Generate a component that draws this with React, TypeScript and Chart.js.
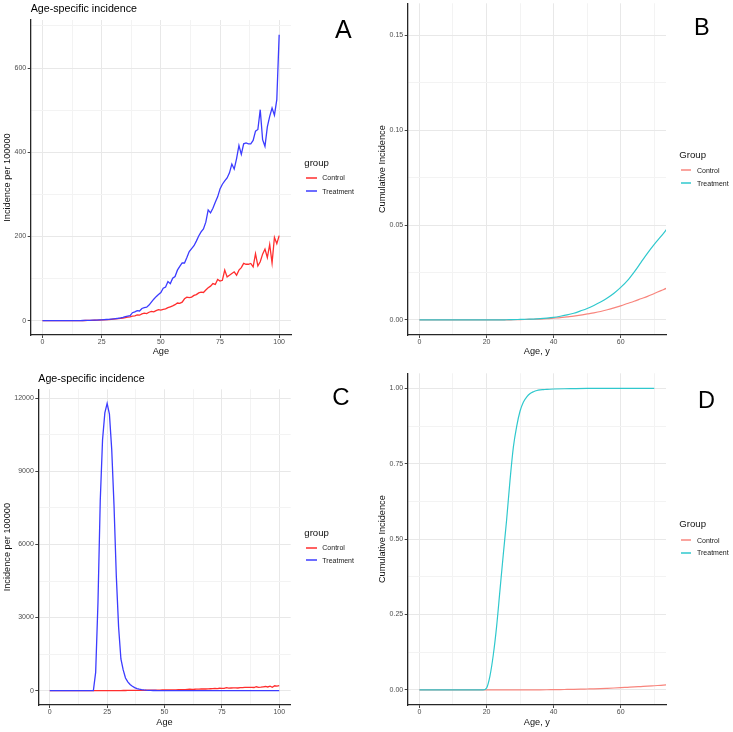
import React, { useEffect, useRef } from "react";
import { Chart, registerables } from "chart.js";

Chart.register(...registerables);

const FONT = "'Liberation Sans', Arial, Helvetica, sans-serif";

// ---------- Panels A and C: age-specific incidence per 100000 ----------
const agesAC = [
  0, 1, 2, 3, 4, 5, 6, 7, 8, 9, 10, 11, 12, 13, 14, 15, 16, 17, 18, 19,
  20, 21, 22, 23, 24, 25, 26, 27, 28, 29, 30, 31, 32, 33, 34, 35, 36, 37, 38, 39,
  40, 41, 42, 43, 44, 45, 46, 47, 48, 49, 50, 51, 52, 53, 54, 55, 56, 57, 58, 59,
  60, 61, 62, 63, 64, 65, 66, 67, 68, 69, 70, 71, 72, 73, 74, 75, 76, 77, 78, 79,
  80, 81, 82, 83, 84, 85, 86, 87, 88, 89, 90, 91, 92, 93, 94, 95, 96, 97, 98, 99, 100,
];

const controlA = [
  0, 0, 0, 0, 0, 0, 0, 0, 0, 0,
  0, 0, 0, 0, 0, 0, 0.2, 0.3, 0.4, 0.5,
  0.6, 0.8, 1, 1.2, 1.4, 1.7, 2, 2.3, 2.7, 3.1,
  3.6, 4.2, 4.8, 5.5, 6.3, 7.2, 8.2, 9.3, 11, 11.5,
  13.5, 13, 16, 18, 17, 20, 22, 21, 24, 26,
  25, 27, 28, 31, 33, 35, 38, 42, 41, 44,
  52, 56, 55, 56, 60, 62, 66, 68, 67, 73,
  78, 82, 88, 86, 98, 94, 96, 120, 104, 108,
  112, 116, 108, 120, 126, 136, 134, 134, 136, 128,
  159, 130, 140, 158, 170, 150, 181, 137, 198, 183,
  202,
];

const treatmentA = [
  0, 0, 0, 0, 0, 0, 0, 0, 0, 0,
  0, 0, 0, 0, 0, 0, 0.3, 0.4, 0.5, 0.7,
  0.9, 1.1, 1.3, 1.5, 1.8, 2.1, 2.4, 2.8, 3.2, 3.7,
  4.3, 5, 5.8, 6.8, 8, 9.5, 11, 12, 19, 21,
  24, 23, 29, 31, 32, 37, 44, 51, 57, 62,
  67, 77, 80, 93, 88, 101, 105, 120, 129, 137,
  137, 150, 164, 171, 178, 189, 201, 211, 218, 234,
  263, 256, 267, 281, 294, 313, 324, 332, 339, 351,
  372, 360, 385, 416, 395, 420, 422, 420, 420, 428,
  450, 454, 501, 430, 414, 460, 485, 505, 488, 525,
  679,
];

const controlC = [
  0, 0, 0, 0, 0, 0, 0, 0, 0, 0,
  0, 0, 0, 0, 0, 0, 0.2, 0.3, 0.4, 0.5,
  0.6, 0.8, 1, 1.2, 1.4, 1.7, 2, 2.3, 2.7, 3.1,
  3.6, 4.2, 4.8, 5.5, 6.3, 7.2, 8.2, 9.3, 11, 11.5,
  13.5, 13, 16, 18, 17, 20, 22, 21, 24, 26,
  25, 27, 28, 31, 33, 35, 38, 42, 41, 44,
  52, 56, 55, 56, 60, 62, 66, 68, 67, 73,
  78, 82, 88, 86, 98, 94, 96, 120, 104, 108,
  112, 116, 108, 120, 126, 136, 134, 134, 136, 128,
  159, 130, 140, 158, 170, 150, 181, 137, 198, 183,
  202,
];

const treatmentC = [
  0, 0, 0, 0, 0, 0, 0, 0, 0, 0,
  0, 0, 0, 0, 0, 0, 0, 0, 0, 0,
  750, 3600, 7800, 10300, 11400, 11790, 11350, 9900, 7600, 4700,
  2600, 1300, 850, 520, 360, 250, 180, 125, 85, 58,
  40, 27, 18, 12, 8, 6, 5, 4, 3, 3,
  3, 3, 2, 2, 2, 2, 2, 2, 2, 2,
  2, 2, 2, 2, 2, 2, 2, 2, 2, 2,
  2, 2, 2, 2, 2, 2, 2, 2, 2, 2,
  2, 2, 2, 2, 2, 2, 2, 2, 2, 2,
  2, 2, 2, 2, 2, 2, 2, 2, 2, 2,
  2,
];

// ---------- Panels B and D: cumulative incidence ----------
const agesCum = [
  0, 2, 4, 6, 8, 10, 12, 14, 16, 18, 20, 22, 24, 26, 28, 30, 32, 34, 36, 38,
  40, 42, 44, 46, 48, 50, 52, 54, 56, 58, 60, 62, 64, 66, 68, 70, 72, 74, 76,
];

const controlB = [
  0, 0, 0, 0, 0, 0, 0, 0, 0, 0, 0, 0, 0, 0, 0.00005, 0.0001, 0.0002, 0.0003, 0.0004, 0.0006,
  0.0009, 0.0012, 0.0016, 0.002, 0.0025, 0.0031, 0.0037, 0.0044, 0.0053, 0.0063,
  0.0074, 0.0086, 0.0098, 0.0111, 0.0124, 0.0139, 0.0154, 0.0169, 0.0185,
];

const treatmentB = [
  0, 0, 0, 0, 0, 0, 0, 0, 0, 0, 0, 0, 0, 0.00005, 0.0001, 0.0002, 0.0003, 0.0004, 0.0006, 0.0009,
  0.0013, 0.0019, 0.0026, 0.0035, 0.0047, 0.006, 0.0076, 0.0094, 0.0115, 0.014,
  0.0171, 0.0207, 0.0252, 0.0302, 0.0352, 0.0398, 0.044, 0.0485, 0.053,
];

const controlD = [
  0, 0, 0, 0, 0, 0, 0, 0, 0, 0, 0, 0, 0, 0, 0.00005, 0.0001, 0.0002, 0.0003, 0.0004, 0.0006,
  0.0009, 0.0012, 0.0016, 0.002, 0.0025, 0.0031, 0.0037, 0.0044, 0.0053, 0.0063,
  0.0074, 0.0086, 0.0098, 0.0111, 0.0124, 0.0139, 0.0154, 0.0169, 0.0185,
];

const agesTreatD = [
  0, 10, 18, 19, 20, 21, 22, 23, 24, 25, 26, 27, 28, 29, 30, 31, 32, 33, 34, 35,
  36, 37, 38, 40, 45, 50, 60, 70,
];

const treatmentD = [
  0, 0, 0, 0, 0.006, 0.045, 0.115, 0.21, 0.33, 0.45, 0.565, 0.695, 0.805, 0.875, 0.925,
  0.955, 0.972, 0.983, 0.989, 0.993, 0.995, 0.996, 0.997, 0.998, 0.999, 1, 1, 1,
];

// ---------- tick values / labels ----------
const xMajorAC = [0, 25, 50, 75, 100];
const xMinorAC = [12.5, 37.5, 62.5, 87.5];
const xLabelsAC = ["0", "25", "50", "75", "100"];

const xMajorBD = [0, 20, 40, 60];
const xMinorBD = [10, 30, 50, 70];
const xLabelsBD = ["0", "20", "40", "60"];

const yMajorA = [0, 200, 400, 600];
const yMinorA = [100, 300, 500, 700];
const yLabelsA = ["0", "200", "400", "600"];

const yMajorB = [0, 0.05, 0.1, 0.15];
const yMinorB = [0.025, 0.075, 0.125];
const yLabelsB = ["0.00", "0.05", "0.10", "0.15"];

const yMajorC = [0, 3000, 6000, 9000, 12000];
const yMinorC = [1500, 4500, 7500, 10500];
const yLabelsC = ["0", "3000", "6000", "9000", "12000"];

const yMajorD = [0, 0.25, 0.5, 0.75, 1];
const yMinorD = [0.125, 0.375, 0.625, 0.875];
const yLabelsD = ["0.00", "0.25", "0.50", "0.75", "1.00"];

const RED = "#ff2e2e";
const BLUE = "#3c3cff";
const SALMON = "#f8857d";
const CYAN = "#2fc8cd";

type AxisSpec = {
  pos: "x" | "y";
  min: number;
  max: number;
  major: number[];
  minor: number[];
  labels: string[];
  title: string;
  size: number;
  titlePad: number;
};

function axis(a: AxisSpec) {
  const all = [...a.major, ...a.minor].sort((p, q) => p - q);
  const majorIndex = (v: number) => a.major.findIndex((m) => Math.abs(m - v) < 1e-9);
  const isMajor = (ctx: any) => ctx && ctx.tick && majorIndex(ctx.tick.value) >= 0;
  return {
    type: "linear",
    min: a.min,
    max: a.max,
    afterBuildTicks: (s: any) => {
      s.ticks = all.map((v) => ({ value: v }));
    },
    afterFit: (s: any) => {
      if (a.pos === "y") {
        s.width = a.size;
        s.paddingTop = 0;
        s.paddingBottom = 0;
      } else {
        s.height = a.size;
        s.paddingLeft = 0;
        s.paddingRight = 0;
      }
    },
    ticks: {
      autoSkip: false,
      maxRotation: 0,
      minRotation: 0,
      padding: a.pos === "y" ? 1.5 : 0.5,
      color: "#4d4d4d",
      font: { family: FONT, size: 7, lineHeight: 1 },
      callback: (v: any) => {
        const i = majorIndex(Number(v));
        return i >= 0 ? a.labels[i] : "";
      },
    },
    grid: {
      color: (ctx: any) => (isMajor(ctx) ? "#e8e8e8" : "#f3f3f3"),
      lineWidth: 1,
      drawTicks: true,
      tickLength: 3,
      tickWidth: 1,
      tickColor: (ctx: any) => (isMajor(ctx) ? "#444444" : "rgba(0,0,0,0)"),
    },
    border: { display: true, color: "#262626", width: 1.3 },
    title: {
      display: true,
      text: a.title,
      color: "#111111",
      font: { family: FONT, size: 9.2, lineHeight: 1 },
      padding: a.pos === "y" ? { top: a.titlePad, bottom: 0 } : { top: 0, bottom: a.titlePad },
    },
  };
}

function series(label: string, xs: number[], ys: number[], color: string, width: number, smooth: boolean) {
  return {
    label,
    data: xs.map((x, i) => ({ x, y: ys[i] })),
    borderColor: color,
    backgroundColor: color,
    borderWidth: width,
    pointRadius: 0,
    fill: false,
    tension: 0,
    cubicInterpolationMode: smooth ? "monotone" : "default",
  };
}

function baseOptions(padding: any, x: any, y: any) {
  return {
    responsive: false,
    maintainAspectRatio: false,
    animation: false,
    devicePixelRatio: 1,
    events: [],
    layout: { padding },
    plugins: { legend: { display: false }, tooltip: { enabled: false }, title: { display: false } },
    scales: { x, y },
  };
}

const configA = () => ({
  type: "line",
  data: {
    datasets: [
      series("Treatment", agesAC, treatmentA, BLUE, 1.3, false),
      series("Control", agesAC, controlA, RED, 1.3, false),
    ],
  },
  options: baseOptions(
    { left: 0, top: 20, right: 75, bottom: 5.7 },
    axis({ pos: "x", min: -5, max: 105, major: xMajorAC, minor: xMinorAC, labels: xLabelsAC, title: "Age", size: 21.3, titlePad: 0 }),
    axis({ pos: "y", min: -34, max: 714, major: yMajorA, minor: yMinorA, labels: yLabelsA, title: "Incidence per 100000", size: 30.7, titlePad: 2.7 })
  ),
});

const configB = () => ({
  type: "line",
  data: {
    datasets: [
      series("Treatment", agesCum, treatmentB, CYAN, 1.2, true),
      series("Control", agesCum, controlB, SALMON, 1.2, true),
    ],
  },
  options: baseOptions(
    { left: 0, top: 3.3, right: 67, bottom: 5.7 },
    axis({ pos: "x", min: -3.5, max: 73.5, major: xMajorBD, minor: xMinorBD, labels: xLabelsBD, title: "Age, y", size: 21.3, titlePad: 0 }),
    axis({ pos: "y", min: -0.008, max: 0.167, major: yMajorB, minor: yMinorB, labels: yLabelsB, title: "Cumulative Incidence", size: 41.7, titlePad: 11.4 })
  ),
});

const configC = () => ({
  type: "line",
  data: {
    datasets: [
      series("Treatment", agesAC, treatmentC, BLUE, 1.3, false),
      series("Control", agesAC, controlC, RED, 1.3, false),
    ],
  },
  options: baseOptions(
    { left: 0, top: 27.3, right: 75.3, bottom: 4.7 },
    axis({ pos: "x", min: -5, max: 105, major: xMajorAC, minor: xMinorAC, labels: xLabelsAC, title: "Age", size: 22.3, titlePad: 0 }),
    axis({ pos: "y", min: -590, max: 12370, major: yMajorC, minor: yMinorC, labels: yLabelsC, title: "Incidence per 100000", size: 38.3, titlePad: 2.7 })
  ),
});

const configD = () => ({
  type: "line",
  data: {
    datasets: [
      series("Treatment", agesTreatD, treatmentD, CYAN, 1.2, true),
      series("Control", agesCum, controlD, SALMON, 1.2, true),
    ],
  },
  options: baseOptions(
    { left: 0, top: 11.3, right: 67, bottom: 4.7 },
    axis({ pos: "x", min: -3.5, max: 73.5, major: xMajorBD, minor: xMinorBD, labels: xLabelsBD, title: "Age, y", size: 22.3, titlePad: 0 }),
    axis({ pos: "y", min: -0.05, max: 1.05, major: yMajorD, minor: yMinorD, labels: yLabelsD, title: "Cumulative Incidence", size: 41.7, titlePad: 11.4 })
  ),
});

function Panel(props: { left: number; top: number; width: number; height: number; config: () => any }) {
  const ref = useRef<HTMLCanvasElement | null>(null);
  useEffect(() => {
    if (!ref.current) return;
    const chart = new Chart(ref.current, props.config());
    return () => chart.destroy();
  }, []);
  return (
    <canvas
      ref={ref}
      width={props.width}
      height={props.height}
      style={{ position: "absolute", left: props.left, top: props.top, width: props.width, height: props.height }}
    />
  );
}

function Txt(props: { x: number; top: number; size: number; text: string; color?: string }) {
  return (
    <div
      style={{
        position: "absolute",
        left: props.x,
        top: props.top,
        fontSize: props.size,
        lineHeight: props.size + "px",
        whiteSpace: "nowrap",
        color: props.color || "#000",
        fontFamily: FONT,
      }}
    >
      {props.text}
    </div>
  );
}

function Legend(props: {
  title: string;
  titleLeft: number;
  titleTop: number;
  keyLeft: number;
  keyWidth: number;
  textLeft: number;
  rows: { label: string; color: string; y: number }[];
}) {
  return (
    <>
      <Txt x={props.titleLeft} top={props.titleTop} size={9.6} text={props.title} color="#111" />
      {props.rows.map((r) => (
        <React.Fragment key={r.label}>
          <div
            style={{
              position: "absolute",
              left: Math.round(props.keyLeft),
              top: Math.round(r.y) - 1,
              width: Math.round(props.keyWidth),
              height: 2,
              background: r.color,
              opacity: 0.75,
            }}
          />
          <Txt x={props.textLeft} top={r.y - 3.5} size={7} text={r.label} color="#1a1a1a" />
        </React.Fragment>
      ))}
    </>
  );
}

export default function App() {
  return (
    <div
      style={{
        position: "absolute",
        left: 0,
        top: 0,
        width: 733,
        height: 732,
        background: "#ffffff",
        overflow: "hidden",
        fontFamily: FONT,
      }}
    >
      <Panel left={0} top={0} width={366} height={362} config={configA} />
      <Panel left={366} top={0} width={367} height={362} config={configB} />
      <Panel left={0} top={362} width={366} height={370} config={configC} />
      <Panel left={366} top={362} width={367} height={370} config={configD} />

      <Txt x={30.7} top={2.6} size={10.7} text="Age-specific incidence" />
      <Txt x={38.3} top={372.6} size={10.7} text="Age-specific incidence" />

      <Txt x={335} top={17.1} size={25} text="A" />
      <Txt x={694} top={16.1} size={23.5} text="B" />
      <Txt x={332.3} top={385.4} size={24} text="C" />
      <Txt x={698} top={389.1} size={23.5} text="D" />

      <Legend
        title="group"
        titleLeft={304.3}
        titleTop={158}
        keyLeft={306}
        keyWidth={11}
        textLeft={322.3}
        rows={[
          { label: "Control", color: RED, y: 177.7 },
          { label: "Treatment", color: BLUE, y: 191 },
        ]}
      />
      <Legend
        title="Group"
        titleLeft={679.3}
        titleTop={150.2}
        keyLeft={681}
        keyWidth={10}
        textLeft={697}
        rows={[
          { label: "Control", color: SALMON, y: 170 },
          { label: "Treatment", color: CYAN, y: 183.3 },
        ]}
      />
      <Legend
        title="group"
        titleLeft={304.3}
        titleTop={527.7}
        keyLeft={306}
        keyWidth={11}
        textLeft={322.3}
        rows={[
          { label: "Control", color: RED, y: 547.7 },
          { label: "Treatment", color: BLUE, y: 560.3 },
        ]}
      />
      <Legend
        title="Group"
        titleLeft={679.3}
        titleTop={519.2}
        keyLeft={681}
        keyWidth={10}
        textLeft={697}
        rows={[
          { label: "Control", color: SALMON, y: 540 },
          { label: "Treatment", color: CYAN, y: 552.7 },
        ]}
      />
    </div>
  );
}
